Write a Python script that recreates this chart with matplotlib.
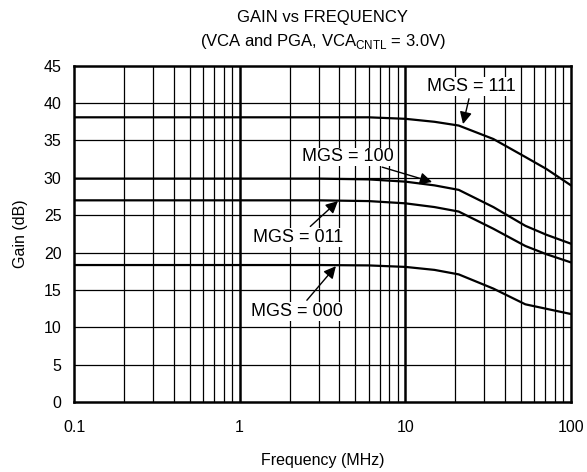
import matplotlib
matplotlib.use("Agg")
import matplotlib.pyplot as plt
from matplotlib.ticker import FixedLocator, NullFormatter

plt.rcParams['font.family'] = ['Liberation Sans', 'DejaVu Sans']
plt.rcParams['mathtext.fontset'] = 'custom'
plt.rcParams['mathtext.rm'] = 'Liberation Sans'

# data
freq = [0.1, 1, 3, 6, 10, 15, 21, 34, 53, 71, 100]
gain_111 = [38.1, 38.1, 38.1, 38.1, 37.9, 37.5, 37.0, 35.2, 32.8, 31.2, 29.0]
gain_100 = [29.9, 29.9, 29.9, 29.8, 29.5, 29.0, 28.4, 26.1, 23.6, 22.4, 21.2]
gain_011 = [27.0, 27.0, 27.0, 26.9, 26.6, 26.1, 25.5, 23.2, 20.9, 19.8, 18.7]
gain_000 = [18.35, 18.35, 18.35, 18.3, 18.1, 17.7, 17.1, 15.2, 13.1, 12.5, 11.8]

x_ticks = [0.1, 1, 10, 100]
x_ticklabels = ['0.1', '1', '10', '100']
y_ticks = list(range(0, 50, 5))

# label text, text position, arrow head position
labels = [
    ('MGS = 111', (25.2, 42.2), (22.3, 37.2)),
    ('MGS = 100', (4.51, 32.8), (14.5, 29.45)),
    ('MGS = 011', (2.25, 22.0), (3.92, 26.9)),
    ('MGS = 000', (2.22, 12.1), (3.81, 18.2)),
]

fig = plt.figure(figsize=(5.87, 4.72), dpi=100)
ax = fig.add_axes([0.1261, 0.1477, 0.8466, 0.7131])

ax.set_xscale('log')
ax.set_xlim(0.1, 100)
ax.set_ylim(0, 45)

# grid: thin minor verticals, thick decade lines, thin horizontals
minor = [m * d for d in (0.1, 1, 10) for m in range(2, 10)]
for x in minor:
    ax.axvline(x, color='black', lw=0.9, zorder=1)
for x in (1, 10):
    ax.axvline(x, color='black', lw=1.8, zorder=1)
for y in y_ticks[1:-1]:
    ax.axhline(y, color='black', lw=0.9, zorder=1)

for g in (gain_111, gain_100, gain_011, gain_000):
    ax.plot(freq, g, color='black', lw=1.6, zorder=3)

for text, xyt, xy in labels:
    ax.annotate(text, xy=xy, xytext=xyt, ha='center', va='center', fontsize=13,
                bbox=dict(boxstyle='square,pad=0.05', fc='white', ec='none'),
                arrowprops=dict(arrowstyle='-|>', color='black', lw=1.0,
                                mutation_scale=18, shrinkA=2, shrinkB=0),
                zorder=5)

ax.xaxis.set_major_locator(FixedLocator(x_ticks))
ax.xaxis.set_minor_formatter(NullFormatter())
ax.set_xticks(x_ticks)
ax.set_xticklabels(x_ticklabels)
ax.set_yticks(y_ticks)
ax.tick_params(axis='both', which='both', length=0, labelsize=11.5)
ax.tick_params(axis='x', pad=13)
ax.tick_params(axis='y', pad=9)

for s in ax.spines.values():
    s.set_linewidth(1.8)
    s.set_zorder(6)

ax.set_xlabel('Frequency (MHz)', fontsize=11.5, labelpad=13)
ax.set_ylabel('Gain (dB)', fontsize=11.5, labelpad=11)
ax.set_title('GAIN vs FREQUENCY\n(VCA and PGA, VCA$_{\\mathrm{CNTL}}$ = 3.0V)',
             fontsize=12, linespacing=1.5, pad=14)

fig.savefig('out.png', dpi=100)
